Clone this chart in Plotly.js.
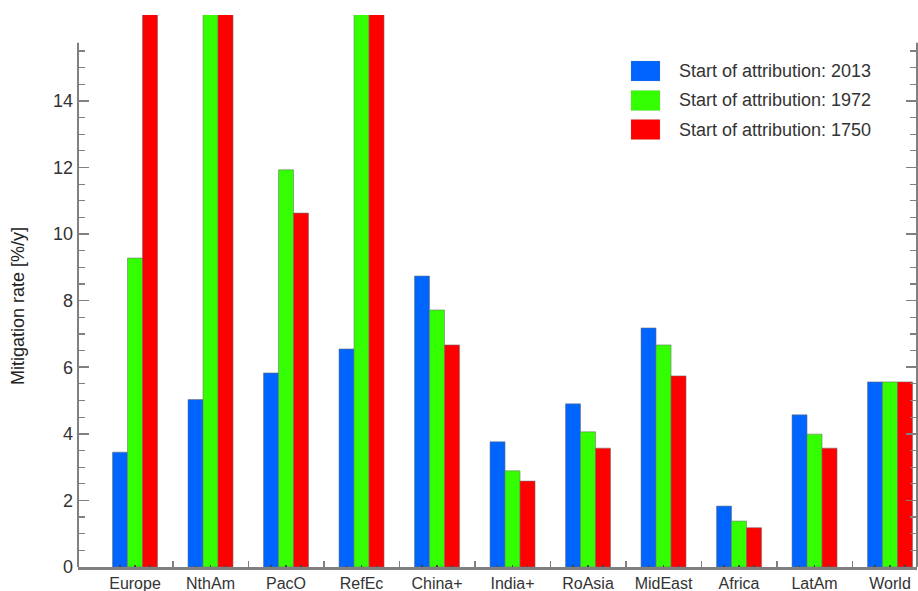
<!DOCTYPE html>
<html>
<head>
<meta charset="utf-8">
<script src="https://cdn.plot.ly/plotly-3.0.1.min.js"></script>
<style>html,body{margin:0;padding:0;background:#fff;}#chart{width:918px;height:591px;}</style>
</head>
<body>
<div id="chart"></div>
<script>
// ---- data ----
const categories = ["Europe", "NthAm", "PacO", "RefEc", "China+", "India+", "RoAsia", "MidEast", "Africa", "LatAm", "World"];
const seriesNames = ["Start of attribution: 2013", "Start of attribution: 1972", "Start of attribution: 1750"];
const rate2013 = [3.45, 5.03, 5.83, 6.55, 8.74, 3.76, 4.90, 7.18, 1.83, 4.57, 5.56];
const rate1972 = [9.28, 18.0, 11.93, 18.0, 7.72, 2.89, 4.06, 6.67, 1.38, 3.99, 5.56];
const rate1750 = [18.0, 18.0, 10.63, 18.0, 6.67, 2.58, 3.57, 5.74, 1.18, 3.57, 5.56];
const yTickVals = [0, 2, 4, 6, 8, 10, 12, 14];
const yTitle = "Mitigation rate [%/y]";

// ---- styling / layout constants ----
const colors = ["#0064ff", "#33ff00", "#ff0000"];
const Y_MAX = 16.58;     // top of drawing area
const Y_FRAME = 15.75;   // top frame line
const BARGAP = 0.404;
const X_RANGE = [-0.755, 10.357];
const FONT = "Liberation Sans, Arial, Helvetica, sans-serif";
const W = 918, H = 591, ML = 78, MR = 1, MT = 15, MB = 24;
const PW = W - ML - MR, PH = H - MT - MB;
const px2x = p => (p - ML) / PW;
const px2y = p => (H - MB - p) / PH;

const xIdx = categories.map((c, i) => i);
const bw = (1 - BARGAP) / 3;
const xTickVals = xIdx.flatMap(i => [i - bw, i, i + bw]);
const xTickText = categories.flatMap(c => ["", c, ""]);
const xMinor = xIdx.slice(0, -1).map(i => i + 0.5);
const yMinor = [];
for (let v = 0.5; v < Y_FRAME; v += 0.5) { if (!yTickVals.includes(v)) yMinor.push(v); }

const allSeries = [rate2013, rate1972, rate1750];
const traces = allSeries.map((vals, k) => ({
  type: "bar",
  x: xIdx,
  y: vals,
  name: seriesNames[k],
  marker: { color: colors[k], line: { color: "rgba(110,110,110,0.55)", width: 1 } },
  hoverinfo: "y+name",
  showlegend: false
}));

// legend drawn as swatches + labels (large swatches as in the reference)
const legendRowsPx = [71, 100.5, 129.5];
const legendShapes = seriesNames.map((n, k) => ({
  type: "rect", xref: "paper", yref: "paper",
  x0: px2x(631), x1: px2x(660),
  y0: px2y(legendRowsPx[k] + 10), y1: px2y(legendRowsPx[k] - 10),
  fillcolor: colors[k], line: { width: 0.5, color: "rgba(150,150,150,0.4)" }
}));
const legendTexts = seriesNames.map((n, k) => ({
  text: n, xref: "paper", yref: "paper", x: px2x(677), y: px2y(legendRowsPx[k]),
  xanchor: "left", yanchor: "middle", showarrow: false,
  font: { family: FONT, size: 18, color: "#333" }
}));

const axisGray = "#808080";
const layout = {
  width: W, height: H,
  margin: { l: ML, r: MR, t: MT, b: MB },
  paper_bgcolor: "#fff", plot_bgcolor: "#fff",
  barmode: "group", bargap: BARGAP, bargroupgap: 0,
  font: { family: FONT, size: 18, color: "#333" },
  showlegend: false,
  xaxis: {
    type: "linear", range: X_RANGE, automargin: false,
    tickmode: "array", tickvals: xTickVals, ticktext: xTickText,
    ticks: "inside", ticklen: 2, tickcolor: "#444", tickwidth: 1.5,
    minor: { tickmode: "array", tickvals: xMinor, ticks: "inside", ticklen: 6, tickcolor: axisGray, tickwidth: 1.5 },
    showgrid: false, zeroline: false,
    showline: true, linecolor: axisGray, linewidth: 2.5,
    tickfont: { family: FONT, size: 16, color: "#333" },
    ticklabelstandoff: 0,
    fixedrange: true
  },
  xaxis2: {
    type: "linear", range: X_RANGE, overlaying: "x", side: "top",
    anchor: "free", position: Y_FRAME / Y_MAX,
    tickmode: "array", tickvals: xTickVals, ticktext: xTickVals.map(() => ""),
    ticks: "inside", ticklen: 2, tickcolor: "#444", tickwidth: 1.5,
    minor: { tickmode: "array", tickvals: xMinor, ticks: "inside", ticklen: 6, tickcolor: axisGray, tickwidth: 1.5 },
    showticklabels: false, showgrid: false, zeroline: false,
    showline: true, linecolor: axisGray, linewidth: 1.5,
    fixedrange: true
  },
  yaxis: {
    range: [0, Y_MAX], automargin: false,
    tickmode: "array", tickvals: yTickVals,
    ticks: "inside", ticklen: 11, tickcolor: axisGray, tickwidth: 1.5,
    minor: { tickmode: "array", tickvals: yMinor, ticks: "inside", ticklen: 7, tickcolor: axisGray, tickwidth: 1.2 },
    mirror: "ticks",
    showgrid: false, zeroline: false, showline: false,
    tickfont: { family: FONT, size: 18, color: "#333" },
    ticklabelstandoff: 4,
    fixedrange: true
  },
  shapes: [
    { type: "line", xref: "paper", yref: "y", x0: 0, x1: 0, y0: 0, y1: Y_FRAME, line: { color: axisGray, width: 2 } },
    { type: "line", xref: "paper", yref: "y", x0: 1, x1: 1, y0: 0, y1: Y_FRAME, line: { color: axisGray, width: 2 } }
  ].concat(legendShapes),
  annotations: [
    { text: yTitle, xref: "paper", yref: "paper", x: px2x(18), y: px2y(306), xanchor: "center", yanchor: "middle",
      textangle: -90, showarrow: false, font: { family: FONT, size: 18, color: "#222" } }
  ].concat(legendTexts)
};

Plotly.newPlot("chart", traces, layout, { displayModeBar: false, staticPlot: true });
</script>
</body>
</html>
